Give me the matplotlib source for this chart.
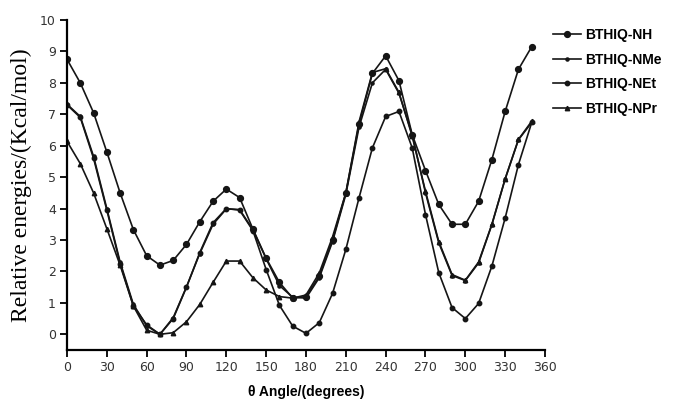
import matplotlib.pyplot as plt

angles = list(range(0, 360, 10))

nh = [8.75, 8.0, 7.05, 5.8, 4.5, 3.33, 2.5, 2.2, 2.35, 2.86, 3.58, 4.23,
      4.62, 4.35, 3.35, 2.42, 1.65, 1.15, 1.2, 1.85, 3.0, 4.5, 6.7, 8.3,
      8.86, 8.07, 6.35, 5.21, 4.13, 3.5, 3.5, 4.23, 5.56, 7.09, 8.43, 9.15]
nme = [7.32, 6.93, 5.66, 4.0, 2.3, 0.95, 0.27, 0.0, 0.53, 1.51, 2.57, 3.5,
       3.99, 3.97, 3.33, 2.4, 1.55, 1.18, 1.15, 1.8, 2.95, 4.45, 6.6, 8.0,
       8.43, 7.67, 6.35, 4.5, 2.91, 1.87, 1.71, 2.27, 3.49, 4.94, 6.19, 6.74]
net = [7.3, 6.9, 5.6, 3.95, 2.25, 0.9, 0.3, 0.0, 0.5, 1.5, 2.6, 3.55,
       4.0, 3.95, 3.3, 2.06, 0.92, 0.26, 0.03, 0.37, 1.3, 2.7, 4.35, 5.93,
       6.93, 7.09, 5.93, 3.81, 1.96, 0.85, 0.5, 0.98, 2.17, 3.7, 5.4, 6.74]
npr = [6.14, 5.43, 4.5, 3.36, 2.2, 0.9, 0.13, 0.0, 0.05, 0.4, 0.95, 1.65,
       2.33, 2.33, 1.8, 1.41, 1.2, 1.15, 1.25, 1.95, 3.1, 4.5, 6.77, 8.33,
       8.45, 7.7, 6.3, 4.55, 2.95, 1.9, 1.72, 2.3, 3.5, 4.95, 6.2, 6.78]

labels = ["BTHIQ-NH", "BTHIQ-NMe", "BTHIQ-NEt", "BTHIQ-NPr"]
xticks = list(range(0, 361, 30))
yticks = list(range(0, 11))

fig = plt.figure(figsize=(6.74, 4.0), dpi=100)
ax = fig.add_axes([0.0994, 0.125, 0.7092, 0.825])

styles = [
    dict(marker="o", markersize=4.2),
    dict(marker=".", markersize=4.5),
    dict(marker="o", markersize=3.2),
    dict(marker="^", markersize=3.2),
]
for vals, lab, st in zip([nh, nme, net, npr], labels, styles):
    ax.plot(angles, vals, color="#151515", lw=1.2, label=lab, **st)

ax.set_xlim(0, 360)
ax.set_ylim(-0.5, 10)
ax.set_xticks(xticks)
ax.set_yticks(yticks)
ax.spines["top"].set_visible(False)
ax.spines["right"].set_visible(False)
for s in ("left", "bottom"):
    ax.spines[s].set_linewidth(1.6)
ax.tick_params(direction="out", length=5, width=1.3, labelsize=9,
               labelcolor="#333333", pad=3)

ax.set_ylabel("Relative energies/(Kcal/mol)", family="Liberation Serif",
              fontsize=17, labelpad=6)
ax.set_xlabel("\u03b8 Angle/(degrees)", family="Liberation Sans",
              fontweight="bold", fontsize=10, labelpad=8)

leg = ax.legend(loc="upper left", bbox_to_anchor=(1.0, 1.0), frameon=False,
                prop=dict(family="Liberation Sans", weight="bold", size=10),
                handlelength=2.0, handletextpad=0.3, labelspacing=0.75,
                borderaxespad=0.2)

fig.savefig("out.png", dpi=100)
